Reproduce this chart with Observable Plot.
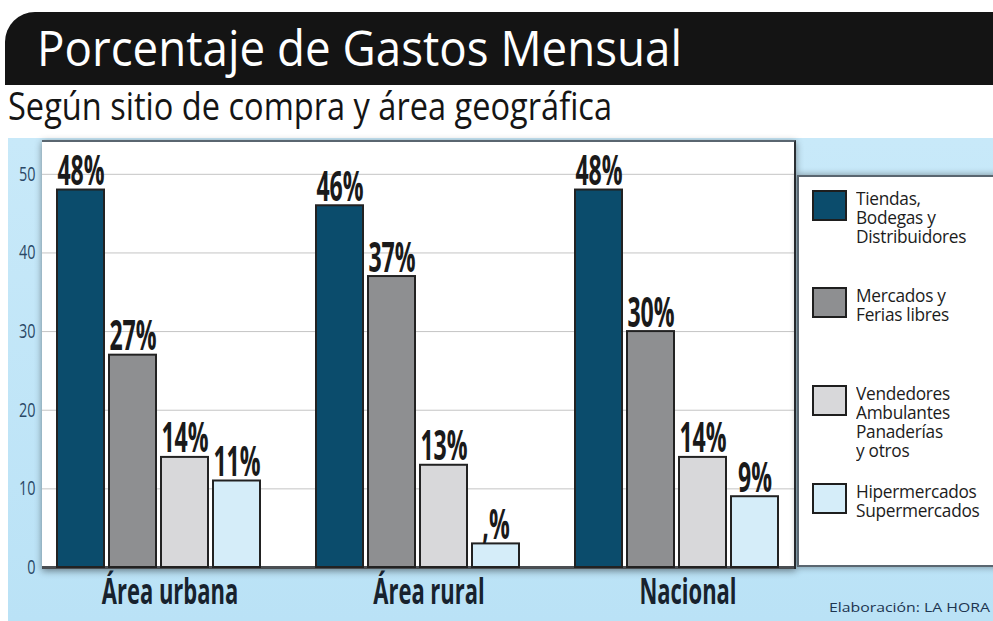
<!DOCTYPE html>
<html>
<head>
<meta charset="utf-8">
<script src="https://cdn.jsdelivr.net/npm/d3@7"></script>
<script src="https://cdn.jsdelivr.net/npm/@observablehq/plot@0.6"></script>
<style>
  html, body { margin: 0; padding: 0; }
  body { width: 993px; height: 621px; overflow: hidden; position: relative; background: #fff; font-family: "Open Sans", "Noto Sans", sans-serif; }
  #titlebar { position: absolute; left: 5px; top: 12px; width: 988px; height: 73px; background: #141414; border-top-left-radius: 30px; }
  #title { position: absolute; left: 37px; top: 22px; color: #fff; font-size: 50px; font-weight: 500; line-height: 50px; white-space: nowrap; display: inline-block; transform-origin: 0 0; }
  #subtitle { position: absolute; left: 8px; top: 86px; color: #151515; font-size: 38px; font-weight: 500; line-height: 38px; white-space: nowrap; display: inline-block; transform-origin: 0 0; }
  #panel { position: absolute; left: 8px; top: 138px; width: 985px; height: 483px; background: linear-gradient(to bottom, #c8e9f9, #bae2f6); }
  #plotbg { position: absolute; left: 42px; top: 140px; width: 752px; height: 427px; background: #fff; border-top: 2px solid #5a6670; border-right: 2px solid #2b2f33; box-shadow: 0 2px 7px rgba(0,0,0,0.45); }
  .layer { position: absolute; left: 0; top: 140px; }
  #legend { position: absolute; left: 797px; top: 175px; width: 200px; height: 388px; background: #fff; border: 2px solid #5a6670; box-shadow: 0 0 7px rgba(0,0,0,0.4); }
  .item { position: absolute; left: 13px; }
  .sw { position: absolute; left: 0; top: 0; width: 31px; height: 27px; border: 2px solid #1e1e1e; }
  .txt { position: absolute; left: 44px; top: -1px; font-size: 18px; line-height: 19px; color: #1c1c1c; white-space: nowrap; transform-origin: 0 0; transform: scaleX(0.96); letter-spacing: -0.3px; }
  #caption { position: absolute; left: 829px; top: 598px; font-size: 13px; color: #1d3550; white-space: nowrap; display: inline-block; transform-origin: 0 0; }
</style>
</head>
<body>
<div id="titlebar"></div>
<div id="title">Porcentaje de Gastos Mensual</div>
<div id="subtitle">Según sitio de compra y área geográfica</div>
<div id="panel"></div>
<div id="plotbg"></div>
<div id="bg" class="layer"></div>
<div id="fg" class="layer"></div>
<div id="legend"></div>
<div id="caption">Elaboración: LA HORA</div>
<script>
// ---- data ----
const categories = ["Área urbana", "Área rural", "Nacional"];
const legendLines = [
  ["Tiendas,", "Bodegas y", "Distribuidores"],
  ["Mercados y", "Ferias libres"],
  ["Vendedores", "Ambulantes", "Panaderías", "y otros"],
  ["Hipermercados", "Supermercados"]
];
const series = legendLines.map(l => l.join(" "));
const colors = ["#0b4c6c", "#8e8f91", "#d8d8da", "#d5edf9"];
const urbana = [48, 27, 14, 11];
const rural = [46, 37, 13, 3];
const nacional = [48, 30, 14, 9];
const labelsUrbana = ["48%", "27%", "14%", "11%"];
const labelsRural = ["46%", "37%", "13%", ",%"];
const labelsNacional = ["48%", "30%", "14%", "9%"];
const yTicks = [0, 10, 20, 30, 40, 50];

const valuesByCat = [urbana, rural, nacional];
const labelsByCat = [labelsUrbana, labelsRural, labelsNacional];
const rows = [];
categories.forEach((c, i) => series.forEach((s, j) => rows.push({cat: c, serie: s, value: valuesByCat[i][j], label: labelsByCat[i][j]})));

// ---- layout ----
const W = 800, H = 481, ML = 42, MR = 6, MT = 0, MB = 54;
const yDomain = [0, 54.3];
const common = {width: W, height: H, marginLeft: ML, marginRight: MR, marginTop: MT, marginBottom: MB,
  style: {background: "transparent", overflow: "visible"}};

const bg = Plot.plot({
  ...common,
  y: {domain: yDomain, ticks: yTicks},
  marks: [
    Plot.gridY(yTicks, {stroke: "#c4c4c4", strokeOpacity: 1, strokeWidth: 1}),
    Plot.axisY(yTicks, {tickSize: 0, tickPadding: 7, fontSize: 20, fill: "#2a4866", fontFamily: "Open Sans, sans-serif"}),
    Plot.ruleY([0], {stroke: "#4a4e52", strokeWidth: 3})
  ]
});
document.getElementById("bg").appendChild(bg);

const fg = Plot.plot({
  ...common,
  y: {domain: yDomain, axis: null},
  fx: {domain: categories, paddingInner: 0.215, paddingOuter: 0.055, axis: null},
  x: {domain: series, paddingInner: 0.1, paddingOuter: 0, axis: null},
  color: {domain: series, range: colors},
  marks: [
    Plot.barY(rows, {fx: "cat", x: "serie", y: "value", fill: "serie", stroke: "#222", strokeWidth: 2}),
    Plot.text(rows, {fx: "cat", x: "serie", y: "value", text: "label", lineAnchor: "bottom", dy: -5,
      fontSize: 42, fontWeight: "bold", fill: "#1a1a1a", fontFamily: "Open Sans, sans-serif"}),
    Plot.axisFx({anchor: "bottom", tickSize: 0, tickPadding: 11, label: null, fontSize: 36, fontWeight: "bold",
      fill: "#17222e", fontFamily: "Open Sans, sans-serif", lineAnchor: "top", dx: 11})
  ]
});
document.getElementById("fg").appendChild(fg);

function squeeze(nodes, factor) {
  nodes.forEach(t => {
    const L = t.getComputedTextLength();
    t.setAttribute("textLength", L * factor);
    t.setAttribute("lengthAdjust", "spacingAndGlyphs");
  });
}
squeeze(fg.querySelectorAll('g[aria-label="text"] text'), 0.55);
squeeze(fg.querySelectorAll('g[aria-label="fx-axis tick label"] text'), 0.61);
squeeze(bg.querySelectorAll('g[aria-label="y-axis tick label"] text'), 0.72);

// ---- legend ----
const legend = document.getElementById("legend");
const itemTops = [13, 110, 208, 306];
legendLines.forEach((lines, i) => {
  const it = document.createElement("div");
  it.className = "item";
  it.style.top = itemTops[i] + "px";
  const sw = document.createElement("div");
  sw.className = "sw";
  sw.style.background = colors[i];
  const tx = document.createElement("div");
  tx.className = "txt";
  tx.innerHTML = lines.join("<br>");
  it.appendChild(sw); it.appendChild(tx);
  legend.appendChild(it);
});

function fit(el, w) {
  const r = el.getBoundingClientRect().width;
  el.style.transform = `scaleX(${w / r})`;
}
fit(document.getElementById("title"), 645);
fit(document.getElementById("subtitle"), 604);
fit(document.getElementById("caption"), 161);
</script>
</body>
</html>
